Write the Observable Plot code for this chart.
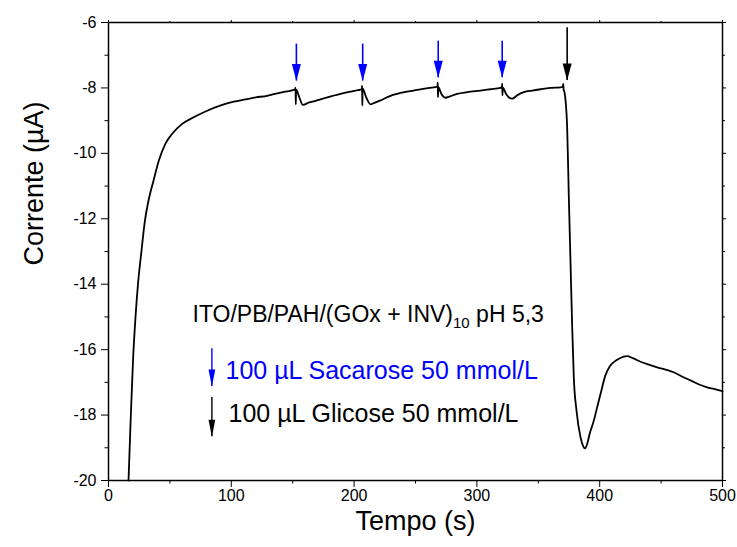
<!DOCTYPE html>
<html><head><meta charset="utf-8">
<script src="https://cdn.jsdelivr.net/npm/d3@7"></script>
<script src="https://cdn.jsdelivr.net/npm/@observablehq/plot@0.6"></script>
<style>body{margin:0;background:#fff}</style>
</head><body><div id="chart"></div>
<script>
// Chronoamperometry trace: time (s) and current (µA)
const timeS = [16.3,18,20,22,24,26.9,29.5,32.6,36.7,41.0,46.4,51.9,60.0,68.2,79.0,92.6,102,111.6,120,129.2,134.6,143,150.9,
  152.0,152.3,152.5,152.8,155.5,158.2,163,168,175.3,182,188.9,196,203,
  206.3,206.5,206.7,207.0,210,213.4,217,221.5,229.6,235.1,241,248.6,256,263,
  267.9,268.1,268.3,268.6,271,274.4,278,284,292,302.9,311,319.2,
  320.4,320.6,320.8,321.1,324,328.7,333,338.2,345,351.8,360,368,
  370.0,370.3,370.6,371.3,373.5,374.8,376.2,377.6,378.9,381.1,384.4,386.5,388.0,389.8,392,395.2,398,400.7,404.7,408,411.5,416,422.4,427,433.2,440,446.8,453,460.3,467,473.9,480,487.5,493,500];
const currentUA = [-20.0,-18.2,-16.3,-15.0,-14.0,-12.97,-12.1,-11.44,-10.83,-10.22,-9.70,-9.40,-9.10,-8.92,-8.72,-8.52,-8.42,-8.35,-8.29,-8.24,-8.19,-8.12,-8.06,
  -8.04,-7.99,-8.50,-8.05,-8.30,-8.52,-8.45,-8.40,-8.32,-8.25,-8.18,-8.12,-8.07,
  -8.04,-7.93,-8.54,-8.02,-8.30,-8.50,-8.45,-8.38,-8.24,-8.18,-8.13,-8.08,-8.03,-7.99,
  -7.96,-7.83,-8.28,-7.98,-8.18,-8.30,-8.26,-8.18,-8.13,-8.08,-8.04,-8.00,
  -7.98,-7.87,-8.23,-7.99,-8.20,-8.33,-8.22,-8.13,-8.08,-8.04,-8.00,-7.98,
  -7.97,-7.88,-8.05,-8.13,-9.20,-11.24,-13.28,-15.31,-16.84,-17.86,-18.68,-18.95,-19.02,-18.88,-18.55,-18.17,-17.75,-17.35,-16.78,-16.52,-16.38,-16.27,-16.20,-16.26,-16.37,-16.46,-16.54,-16.60,-16.69,-16.82,-16.94,-17.05,-17.15,-17.20,-17.27];

// Injection arrows (time, current at shaft top, current at tip)
const sucroseT = [153, 207, 268.5, 320.6];
const sucroseTop = [-6.66, -6.66, -6.57, -6.57];
const sucroseTip = [-7.79, -7.79, -7.69, -7.69];
const glucoseT = [373.5];
const glucoseTop = [-6.16];
const glucoseTip = [-7.77];

// Annotation text and anchors (data space)
const titleMain = "ITO/PB/PAH/(GOx + INV)";
const titleSub = "10";
const titleTail = " pH 5,3";
const titleT = [68.4];
const titleI = [-14.93];
const legendLabels = ["100 \u00B5L Sacarose 50 mmol/L", "100 \u00B5L Glicose 50 mmol/L"];
const legendColors = ["#0000ff", "#000000"];
const legendTextT = [95.3, 97.7];
const legendTextI = [-16.64, -17.98];
const legendArrowT = [84.2, 84.2];
const legendArrowTop = [-15.97, -17.46];
const legendArrowTip = [-17.13, -18.66];

// Axes
const xMajor = [0, 100, 200, 300, 400, 500];
const xMinor = [50, 150, 250, 350, 450];
const yMajor = [-20, -18, -16, -14, -12, -10, -8, -6];
const yMinor = [-19, -17, -15, -13, -11, -9, -7];
const xTitle = "Tempo (s)";
const yTitle = "Corrente (\u00B5A)";
const yTitleAt = [-13.43];

const trace = timeS.map((t, k) => ({t, i: currentUA[k]}));
const sucrose = sucroseT.map((t, k) => ({t, top: sucroseTop[k], tip: sucroseTip[k]}));
const glucose = glucoseT.map((t, k) => ({t, top: glucoseTop[k], tip: glucoseTip[k]}));
const legend = legendLabels.map((label, k) => ({label, color: legendColors[k], tx: legendTextT[k], ty: legendTextI[k], ax: legendArrowT[k], top: legendArrowTop[k], tip: legendArrowTip[k]}));

const arrowHead = (ratio) => ({
  draw(ctx, size) {
    const r = Math.sqrt(size / Math.PI);
    const L = 2 * r, w = ratio * r;
    ctx.moveTo(-w / 2, -L); ctx.lineTo(w / 2, -L); ctx.lineTo(0, 0); ctx.closePath();
  }
});
const bigHead = arrowHead(1.06);
const smallHead = arrowHead(0.8);

const font = "'Liberation Sans', Arial, sans-serif";

const svg = Plot.plot({
  width: 737, height: 547,
  marginLeft: 108, marginRight: 15, marginTop: 22, marginBottom: 67,
  style: {fontFamily: font, fontSize: "16px", color: "black", background: "white"},
  x: {domain: [0, 500]},
  y: {domain: [-20, -6]},
  marks: [
    Plot.axisY(yMajor, {anchor: "left", tickSize: 7, tickPadding: 5, tickFormat: d => String(d), label: null, fontSize: 16}),
    Plot.axisY(yMinor, {anchor: "left", tickSize: 3.5, tickFormat: () => "", label: null}),
    Plot.axisY(yMajor, {anchor: "right", tickSize: 3, tickFormat: () => "", label: null}),
    Plot.axisY(yMinor, {anchor: "right", tickSize: 2, tickFormat: () => "", label: null}),
    Plot.axisX(xMajor, {anchor: "bottom", tickSize: 7, tickPadding: 2, tickFormat: d => String(d), label: null, fontSize: 16}),
    Plot.axisX(xMinor, {anchor: "bottom", tickSize: 3.5, tickFormat: () => "", label: null}),
    Plot.axisX(xMajor, {anchor: "top", tickSize: 3, tickFormat: () => "", label: null}),
    Plot.axisX(xMinor, {anchor: "top", tickSize: 2, tickFormat: () => "", label: null}),
    Plot.frame({stroke: "black", strokeWidth: 1.5}),
    Plot.line(trace, {x: "t", y: "i", stroke: "black", strokeWidth: 1.8, curve: "monotone-x"}),
    // injection arrows
    Plot.ruleX(sucrose, {x: "t", y1: "top", y2: "tip", stroke: "#0000ff", strokeWidth: 1.6}),
    Plot.dot(sucrose, {x: "t", y: "tip", r: 8.5, symbol: bigHead, fill: "#0000ff", stroke: "none"}),
    Plot.ruleX(glucose, {x: "t", y1: "top", y2: "tip", stroke: "black", strokeWidth: 1.6}),
    Plot.dot(glucose, {x: "t", y: "tip", r: 8.5, symbol: bigHead, fill: "black", stroke: "none"}),
    // annotation
    Plot.text([titleMain + titleSub + titleTail], {x: () => titleT[0], y: () => titleI[0], text: d => d, textAnchor: "start", fontSize: 23, fill: "black"}),
    Plot.ruleX(legend, {x: "ax", y1: "top", y2: "tip", stroke: "color", strokeWidth: 1.4}),
    Plot.dot(legend, {x: "ax", y: "tip", r: 8.5, symbol: smallHead, fill: "color", stroke: "none"}),
    Plot.text(legend, {x: "tx", y: "ty", text: "label", fill: "color", textAnchor: "start", fontSize: 25}),
    // axis titles
    Plot.text([xTitle], {frameAnchor: "bottom", text: d => d, dy: 49, fontSize: 27, fill: "black"}),
    Plot.text([yTitle], {frameAnchor: "left", y: () => yTitleAt[0], text: d => d, dx: -74, rotate: -90, fontSize: 27, fill: "black"})
  ]
});

// subscript for the title
svg.querySelectorAll("text").forEach(el => {
  if (el.textContent === titleMain + titleSub + titleTail) {
    el.textContent = "";
    const ns = "http://www.w3.org/2000/svg";
    const add = (s, attrs) => { const t = document.createElementNS(ns, "tspan"); t.textContent = s; for (const k in attrs) t.setAttribute(k, attrs[k]); el.appendChild(t); };
    add(titleMain, {});
    add(titleSub, {"font-size": 15, dy: 6});
    add(titleTail, {dy: -6});
  }
});
document.getElementById("chart").appendChild(svg);
</script>
</body></html>
